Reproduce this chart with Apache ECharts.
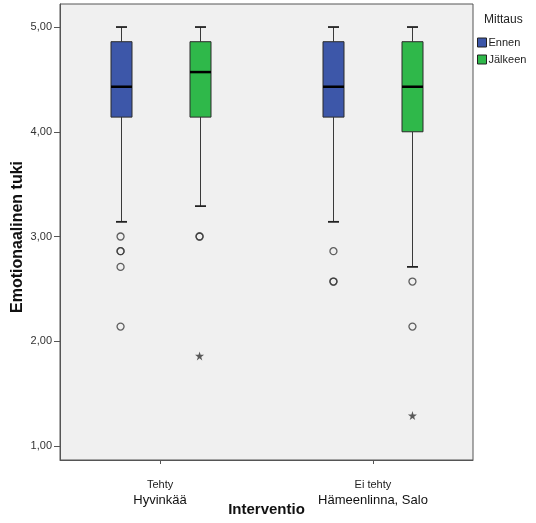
<!DOCTYPE html>
<html>
<head>
<meta charset="utf-8">
<script src="https://cdn.jsdelivr.net/npm/echarts@6/dist/echarts.min.js"></script>
<style>
html,body{margin:0;padding:0;background:#fff;}
#chart{width:536px;height:523px;}
</style>
</head>
<body>
<div id="chart"></div>
<script>
// ---- data ----
const categories = ['Tehty', 'Ei tehty'];
const places = ['Hyvinkää', 'Hämeenlinna, Salo'];
const seriesNames = ['Ennen', 'Jälkeen'];
const yTicks = [1, 2, 3, 4, 5];
// [min whisker, Q1, median, Q3, max whisker] per category
const ennenStats = [
  [3.14, 4.14, 4.43, 4.86, 5.00],
  [3.14, 4.14, 4.43, 4.86, 5.00]
];
const jalkeenStats = [
  [3.29, 4.14, 4.57, 4.86, 5.00],
  [2.71, 4.00, 4.43, 4.86, 5.00]
];
// outliers [categoryIndex, value]
const ennenOutliers = [[0, 3.00], [0, 2.86], [0, 2.86], [0, 2.71], [0, 2.14], [1, 2.86], [1, 2.57], [1, 2.57]];
const jalkeenOutliers = [[0, 3.00], [0, 3.00], [1, 2.57], [1, 2.14]];
// extreme values [categoryIndex, value]
const ennenExtremes = [];
const jalkeenExtremes = [[0, 1.86], [1, 1.29]];

const colors = ['#3D57A9', '#2FB84A'];
const dodge = [-39.5, 39.5];
const starPath = 'path://M50,0 L61,35 L98,35 L68,57 L79,91 L50,70 L21,91 L32,57 L2,35 L39,35 Z';

function boxRenderer(dx, color) {
  return function (params, api) {
    const xv = api.value(0);
    const p = [1, 2, 3, 4, 5].map(i => api.coord([xv, api.value(i)]));
    const cx = Math.round(p[0][0] + dx) + 0.5;
    const bw = 21, cw = 11;
    const yMin = p[0][1], yQ1 = p[1][1], yMed = p[2][1], yQ3 = p[3][1], yMax = p[4][1];
    const ls = { stroke: '#3a3a3a', lineWidth: 1 };
    return {
      type: 'group',
      children: [
        { type: 'line', shape: { x1: cx, y1: yMin, x2: cx, y2: yQ1 }, style: ls },
        { type: 'line', shape: { x1: cx, y1: yQ3, x2: cx, y2: yMax }, style: ls },
        { type: 'line', shape: { x1: cx - cw / 2, y1: yMin, x2: cx + cw / 2, y2: yMin }, style: { stroke: '#222', lineWidth: 1.8 } },
        { type: 'line', shape: { x1: cx - cw / 2, y1: yMax, x2: cx + cw / 2, y2: yMax }, style: { stroke: '#222', lineWidth: 1.8 } },
        { type: 'rect', shape: { x: cx - bw / 2, y: yQ3, width: bw, height: yQ1 - yQ3 }, style: { fill: color, stroke: '#2a2a2a', lineWidth: 1 } },
        { type: 'line', shape: { x1: cx - bw / 2, y1: yMed, x2: cx + bw / 2, y2: yMed }, style: { stroke: '#000', lineWidth: 2.5 } }
      ]
    };
  };
}

function boxData(stats) {
  return stats.map((s, i) => [i].concat(s));
}

const chart = echarts.init(document.getElementById('chart'), null, { renderer: 'canvas' });
const font = 'Liberation Sans, Arial, sans-serif';

const option = {
  backgroundColor: '#ffffff',
  animation: false,
  textStyle: { fontFamily: font },
  title: {
    text: 'Mittaus', left: 479, top: 9,
    textStyle: { fontSize: 12, fontWeight: 'normal', color: '#222', fontFamily: font }
  },
  legend: {
    data: seriesNames,
    orient: 'vertical',
    left: 472, top: 32,
    itemWidth: 9, itemHeight: 9, itemGap: 6,
    icon: 'rect',
    itemStyle: { borderColor: '#222', borderWidth: 1 },
    textStyle: { fontSize: 11, color: '#222', fontFamily: font, padding: [0, 0, 0, -3] }
  },
  grid: {
    left: 60, right: 63, top: 4, bottom: 63,
    outerBoundsMode: 'none', containLabel: false,
    show: true, backgroundColor: '#F0F0F0', borderColor: '#555', borderWidth: 1
  },
  xAxis: {
    type: 'value', min: -0.47, max: 1.47,
    name: 'Interventio', nameLocation: 'middle', nameGap: 42, nameMoveOverlap: false,
    nameTextStyle: { fontSize: 15, fontWeight: 'bold', color: '#111', fontFamily: font },
    axisLine: { show: true, onZero: false, lineStyle: { color: '#555', width: 1 } },
    axisTick: { show: true, customValues: [0, 1], length: 4, lineStyle: { color: '#555' } },
    splitLine: { show: false },
    axisLabel: {
      customValues: [0, 1], margin: 17,
      formatter: v => '{a|' + categories[Math.round(v)] + '}\n{b|' + places[Math.round(v)] + '}',
      rich: {
        a: { fontSize: 11, lineHeight: 15, color: '#222', fontFamily: font },
        b: { fontSize: 13, lineHeight: 17, color: '#111', fontFamily: font }
      }
    }
  },
  yAxis: {
    type: 'value', min: 0.866, max: 5.22,
    name: 'Emotionaalinen tuki', nameLocation: 'middle', nameGap: 34, nameMoveOverlap: false,
    nameTextStyle: { fontSize: 16, fontWeight: 'bold', color: '#111', fontFamily: font, padding: [0, 10, 0, 0] },
    axisLine: { show: true, onZero: false, lineStyle: { color: '#555', width: 1 } },
    axisTick: { show: true, customValues: yTicks, length: 6, lineStyle: { color: '#555' } },
    splitLine: { show: false },
    axisLabel: {
      customValues: yTicks, margin: 8, fontSize: 11, color: '#333', fontFamily: font,
      formatter: v => v.toFixed(2).replace('.', ',')
    }
  },
  series: [
    {
      name: 'Ennen', type: 'custom', itemStyle: { color: colors[0] },
      renderItem: boxRenderer(dodge[0], colors[0]),
      encode: { x: 0, y: [1, 2, 3, 4, 5] },
      data: boxData(ennenStats)
    },
    {
      name: 'Jälkeen', type: 'custom', itemStyle: { color: colors[1] },
      renderItem: boxRenderer(dodge[1], colors[1]),
      encode: { x: 0, y: [1, 2, 3, 4, 5] },
      data: boxData(jalkeenStats)
    },
    {
      name: 'Ennen outliers', type: 'scatter', symbol: 'circle', symbolSize: 7,
      symbolOffset: [dodge[0], 0],
      itemStyle: { color: 'rgba(0,0,0,0)', borderColor: '#3a3a3a', borderWidth: 1.3 },
      data: ennenOutliers
    },
    {
      name: 'Jälkeen outliers', type: 'scatter', symbol: 'circle', symbolSize: 7,
      symbolOffset: [dodge[1], 0],
      itemStyle: { color: 'rgba(0,0,0,0)', borderColor: '#3a3a3a', borderWidth: 1.3 },
      data: jalkeenOutliers
    },
    {
      name: 'Ennen extremes', type: 'scatter', symbol: starPath, symbolSize: 9,
      symbolOffset: [dodge[0], 0],
      itemStyle: { color: '#333' },
      data: ennenExtremes
    },
    {
      name: 'Jälkeen extremes', type: 'scatter', symbol: starPath, symbolSize: 9,
      symbolOffset: [dodge[1], 0],
      itemStyle: { color: '#333' },
      data: jalkeenExtremes
    }
  ]
};
chart.setOption(option);
</script>
</body>
</html>
